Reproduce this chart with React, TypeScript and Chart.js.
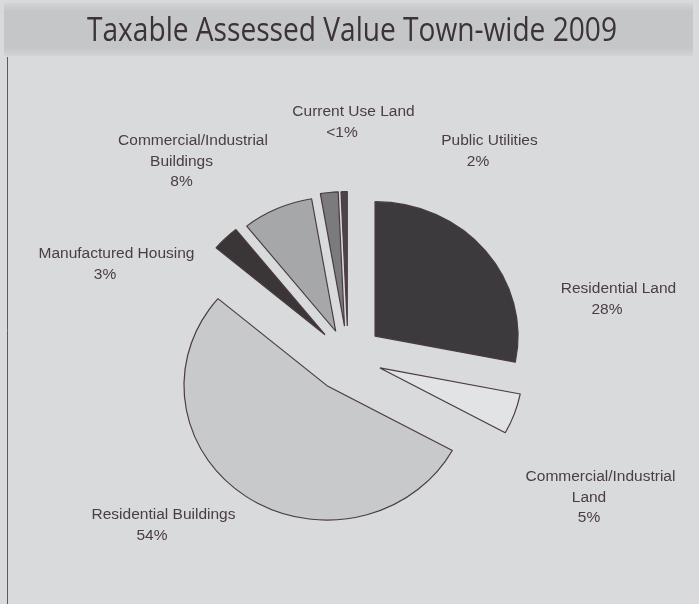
import { useEffect, useRef } from "react";
import { Chart, registerables } from "chart.js";

Chart.register(...registerables);

// ---- data ----
const TITLE = "Taxable Assessed Value Town-wide 2009";
const categories = [
  "Residential Land",
  "Commercial/Industrial Land",
  "Residential Buildings",
  "Manufactured Housing",
  "Commercial/Industrial Buildings",
  "Public Utilities",
  "Current Use Land",
];
const shares = [28.1, 4.9, 53.2, 3.1, 8.0, 2.0, 0.7];
const percentLabels = ["28%", "5%", "54%", "3%", "8%", "2%", "<1%"];

// ---- layout / style ----
const labelLines = [
  ["Residential Land"],
  ["Commercial/Industrial", "Land"],
  ["Residential Buildings"],
  ["Manufactured Housing"],
  ["Commercial/Industrial", "Buildings"],
  ["Public Utilities"],
  ["Current Use Land"],
];
// explosion distance of each slice (px, along its bisector)
const explode = [35, 34, 37, 33, 30, 33, 33];
const PIE_RADIUS = 143;
const V_SQUASH = 0.94; // the scanned original is slightly flattened vertically
const sliceColors = ["#3c3a3c", "#e1e3e4", "#c7c9ca", "#3a3638", "#a5a7a8", "#7b7b7d", "#4d4448"];
// label anchors relative to the pie centre
const labelAnchors = [
  [259, -68],
  [241, 120],
  [-196, 158],
  [-243, -103],
  [-166.5, -216],
  [130, -216],
  [-6, -245],
];

const decor = {
  id: "decor",
  beforeDraw(chart: any) {
    const { ctx, width, height } = chart;
    ctx.save();
    ctx.fillStyle = "#d8dadb";
    ctx.fillRect(0, 0, width, height);
    const g = ctx.createLinearGradient(0, 3, 0, 56);
    g.addColorStop(0, "#d2d4d5");
    g.addColorStop(0.15, "#c4c6c7");
    g.addColorStop(0.85, "#c4c6c7");
    g.addColorStop(1, "#d2d4d5");
    ctx.fillStyle = g;
    ctx.fillRect(4, 3, width - 10, 53);
    ctx.strokeStyle = "#5c5a5b";
    ctx.lineWidth = 1;
    ctx.beginPath();
    ctx.moveTo(7.5, 57);
    ctx.lineTo(7.5, height);
    ctx.stroke();
    ctx.font = "32px 'Open Sans'";
    const w = ctx.measureText(TITLE).width;
    const sx = 530 / w;
    ctx.translate(352, 41);
    ctx.scale(sx, 1);
    ctx.textAlign = "center";
    ctx.textBaseline = "alphabetic";
    ctx.fillStyle = "#3b3337";
    ctx.fillText(TITLE, 0, 0);
    ctx.restore();
  },
  beforeDatasetDraw(chart: any, args: any) {
    const meta = args.meta;
    const ctx = chart.ctx;
    const first = meta.data[0];
    if (!first) return false;
    const cx = first.x;
    const cy = first.y;
    meta.data.forEach((arc: any, i: number) => {
      const mid = (arc.startAngle + arc.endAngle) / 2;
      const d = explode[i] || 0;
      ctx.save();
      ctx.translate(cx, cy);
      ctx.scale(1, V_SQUASH);
      ctx.translate(-cx, -cy);
      ctx.translate(Math.cos(mid) * d, Math.sin(mid) * d);
      arc.draw(ctx, chart.chartArea);
      ctx.restore();
    });
    return false;
  },
  afterDatasetsDraw(chart: any) {
    const arc = chart.getDatasetMeta(0).data[0];
    if (!arc) return;
    const cx = arc.x;
    const cy = arc.y;
    const ctx = chart.ctx;
    ctx.save();
    ctx.font = "15.5px 'Liberation Sans'";
    ctx.fillStyle = "#4a3d43";
    ctx.textAlign = "center";
    ctx.textBaseline = "middle";
    categories.forEach((_, i) => {
      const lines = [...labelLines[i], percentLabels[i]];
      const x = cx + labelAnchors[i][0];
      const y = cy + labelAnchors[i][1];
      lines.forEach((t, j) => {
        ctx.fillText(t, j === 0 ? x + 11.5 : x, y + j * 20.5);
      });
    });
    ctx.restore();
  },
};

export default function App() {
  const ref = useRef<HTMLCanvasElement | null>(null);
  useEffect(() => {
    if (!ref.current) return;
    const chart = new Chart(ref.current, {
      type: "pie",
      data: {
        labels: categories,
        datasets: [
          {
            data: shares,
            backgroundColor: sliceColors,
            borderColor: "#4b3b41",
            borderWidth: 1.2,
            radius: PIE_RADIUS,
          } as any,
        ],
      },
      options: {
        animation: false,
        responsive: true,
        maintainAspectRatio: false,
        layout: { padding: { left: 0, right: 3, top: 110, bottom: 0 } },
        plugins: {
          legend: { display: false },
          tooltip: { enabled: false },
          title: { display: false },
        },
      },
      plugins: [decor],
    });
    return () => chart.destroy();
  }, []);
  return (
    <div style={{ position: "absolute", left: 0, top: 0, width: 699, height: 604 }}>
      <canvas ref={ref} />
    </div>
  );
}
